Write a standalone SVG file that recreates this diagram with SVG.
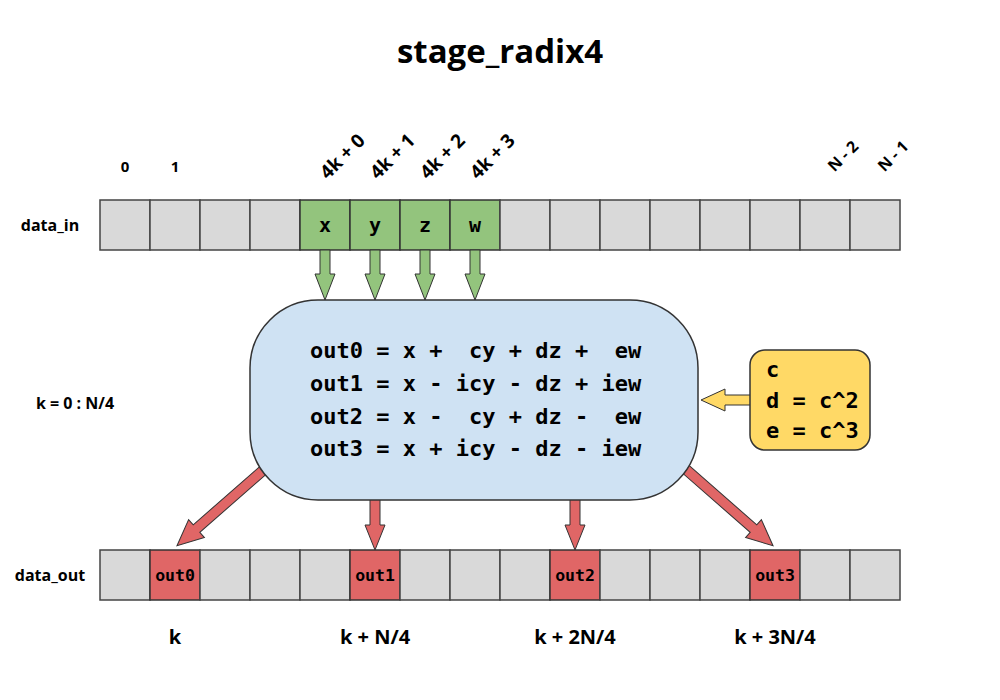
<svg xmlns="http://www.w3.org/2000/svg" width="1000" height="700" viewBox="0 0 1000 700">
<style>
.cell{fill:#d9d9d9;stroke:#444;stroke-width:1.5}
.g{fill:#93c47d;stroke:#333;stroke-width:1.5}
.r{fill:#e06666;stroke:#333;stroke-width:1.5}
.lbl{font-family:"Open Sans","Liberation Sans",sans-serif;font-weight:bold;fill:#000}
.mono{font-family:"DejaVu Sans Mono","Liberation Mono",monospace;font-weight:bold;fill:#000;white-space:pre}
.ga{fill:#93c47d;stroke:#333;stroke-width:1}
.ra{fill:#e06666;stroke:#333;stroke-width:1}
.ya{fill:#ffd966;stroke:#333;stroke-width:1}
</style>
<rect width="1000" height="700" fill="#fff"/>
<text class="lbl" x="500" y="63" font-size="33" text-anchor="middle">stage_radix4</text>

<g id="labels">
<text class="lbl" x="50" y="231" font-size="16" text-anchor="middle">data_in</text>
<text class="lbl" x="50" y="581" font-size="16" text-anchor="middle">data_out</text>
<text class="lbl" x="75" y="409" font-size="16" text-anchor="middle">k = 0 : N/4</text>
<text class="lbl" x="125" y="172" font-size="15" text-anchor="middle">0</text>
<text class="lbl" x="175" y="172" font-size="15" text-anchor="middle">1</text>
<text class="lbl" font-size="19" text-anchor="middle" transform="translate(347,161) rotate(-45)">4k + 0</text>
<text class="lbl" font-size="19" text-anchor="middle" transform="translate(397,161) rotate(-45)">4k + 1</text>
<text class="lbl" font-size="19" text-anchor="middle" transform="translate(447,161) rotate(-45)">4k + 2</text>
<text class="lbl" font-size="19" text-anchor="middle" transform="translate(497,161) rotate(-45)">4k + 3</text>
<text class="lbl" font-size="16" text-anchor="middle" transform="translate(847,160) rotate(-45)">N - 2</text>
<text class="lbl" font-size="16" text-anchor="middle" transform="translate(897,160) rotate(-45)">N - 1</text>
<text class="lbl" x="175" y="644" font-size="20" text-anchor="middle">k</text>
<text class="lbl" x="375" y="644" font-size="20" text-anchor="middle">k + N/4</text>
<text class="lbl" x="575" y="644" font-size="20" text-anchor="middle">k + 2N/4</text>
<text class="lbl" x="775" y="644" font-size="20" text-anchor="middle">k + 3N/4</text>
</g>

<g id="data_in">
<rect class="cell" x="100" y="200" width="50" height="50"/>
<rect class="cell" x="150" y="200" width="50" height="50"/>
<rect class="cell" x="200" y="200" width="50" height="50"/>
<rect class="cell" x="250" y="200" width="50" height="50"/>
<rect class="g" x="300" y="200" width="50" height="50"/>
<rect class="g" x="350" y="200" width="50" height="50"/>
<rect class="g" x="400" y="200" width="50" height="50"/>
<rect class="g" x="450" y="200" width="50" height="50"/>
<rect class="cell" x="500" y="200" width="50" height="50"/>
<rect class="cell" x="550" y="200" width="50" height="50"/>
<rect class="cell" x="600" y="200" width="50" height="50"/>
<rect class="cell" x="650" y="200" width="50" height="50"/>
<rect class="cell" x="700" y="200" width="50" height="50"/>
<rect class="cell" x="750" y="200" width="50" height="50"/>
<rect class="cell" x="800" y="200" width="50" height="50"/>
<rect class="cell" x="850" y="200" width="50" height="50"/>
<text class="mono" x="325" y="232" font-size="20" text-anchor="middle">x</text>
<text class="mono" x="375" y="232" font-size="20" text-anchor="middle">y</text>
<text class="mono" x="425" y="232" font-size="20" text-anchor="middle">z</text>
<text class="mono" x="475" y="232" font-size="20" text-anchor="middle">w</text>
</g>

<g id="data_out">
<rect class="cell" x="100" y="550" width="50" height="50"/>
<rect class="r" x="150" y="550" width="50" height="50"/>
<rect class="cell" x="200" y="550" width="50" height="50"/>
<rect class="cell" x="250" y="550" width="50" height="50"/>
<rect class="cell" x="300" y="550" width="50" height="50"/>
<rect class="r" x="350" y="550" width="50" height="50"/>
<rect class="cell" x="400" y="550" width="50" height="50"/>
<rect class="cell" x="450" y="550" width="50" height="50"/>
<rect class="cell" x="500" y="550" width="50" height="50"/>
<rect class="r" x="550" y="550" width="50" height="50"/>
<rect class="cell" x="600" y="550" width="50" height="50"/>
<rect class="cell" x="650" y="550" width="50" height="50"/>
<rect class="cell" x="700" y="550" width="50" height="50"/>
<rect class="r" x="750" y="550" width="50" height="50"/>
<rect class="cell" x="800" y="550" width="50" height="50"/>
<rect class="cell" x="850" y="550" width="50" height="50"/>
<text class="mono" x="175" y="581" font-size="16.5" text-anchor="middle">out0</text>
<text class="mono" x="375" y="581" font-size="16.5" text-anchor="middle">out1</text>
<text class="mono" x="575" y="581" font-size="16.5" text-anchor="middle">out2</text>
<text class="mono" x="775" y="581" font-size="16.5" text-anchor="middle">out3</text>
</g>

<g id="connectors">
<polygon class="ga" points="320,250 330,250 330,274 335,274 325,300 315,274 320,274"/>
<polygon class="ga" points="370,250 380,250 380,274 385,274 375,300 365,274 370,274"/>
<polygon class="ga" points="420,250 430,250 430,274 435,274 425,300 415,274 420,274"/>
<polygon class="ga" points="470,250 480,250 480,274 485,274 475,300 465,274 470,274"/>
<polygon class="ra" points="370,495 380,495 380,525 385,525 375,550 365,525 370,525"/>
<polygon class="ra" points="570,495 580,495 580,525 585,525 575,550 565,525 570,525"/>
<polygon class="ra" transform="translate(268,466) rotate(138.8)" points="0,-5 95,-5 95,-12 121,0 95,12 95,5 0,5"/>
<polygon class="ra" transform="translate(682,466) rotate(41.2)" points="0,-5 95,-5 95,-12 121,0 95,12 95,5 0,5"/>
<polygon class="ya" points="752,395 725,395 725,389 701,400 725,411 725,405 752,405"/>
</g>

<g id="compute">
<rect x="250" y="300" width="448" height="200" rx="68" ry="68" fill="#cfe2f3" stroke="#333" stroke-width="1.5"/>
<text class="mono" x="310" y="358" font-size="22">out0 = x +  cy + dz +  ew</text>
<text class="mono" x="310" y="391" font-size="22">out1 = x - icy - dz + iew</text>
<text class="mono" x="310" y="424" font-size="22">out2 = x -  cy + dz -  ew</text>
<text class="mono" x="310" y="456" font-size="22">out3 = x + icy - dz - iew</text>
</g>

<g id="twiddles">
<rect x="750" y="350" width="120" height="100" rx="15" ry="15" fill="#ffd966" stroke="#333" stroke-width="1.5"/>
<text class="mono" x="766" y="377" font-size="22">c</text>
<text class="mono" x="766" y="408" font-size="22">d = c^2</text>
<text class="mono" x="766" y="438" font-size="22">e = c^3</text>
</g>
</svg>
